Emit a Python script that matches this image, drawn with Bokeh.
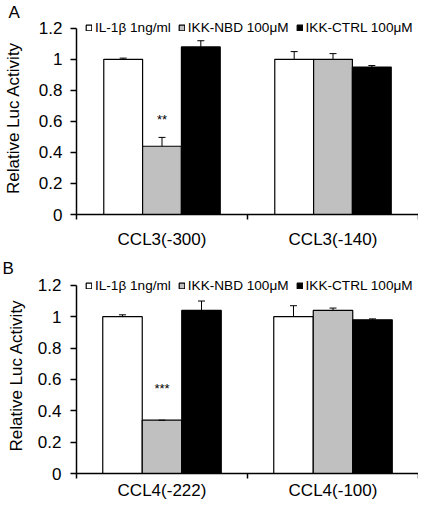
from bokeh.plotting import figure
from bokeh.models import FixedTicker, Legend, LegendItem, NumeralTickFormatter, Range1d, ColumnDataSource, Title
from bokeh.layouts import column
from bokeh.embed import file_html
from bokeh.resources import INLINE
from bokeh.core.properties import value

# ---- data ----
series = ["IL-1β 1ng/ml", "IKK-NBD 100μM", "IKK-CTRL 100μM"]
y_ticks = [0, 0.2, 0.4, 0.6, 0.8, 1, 1.2]

cats_a = ["CCL3(-300)", "CCL3(-140)"]
a_il1b = [1.00, 1.00]
a_il1b_err = [0.008, 0.05]
a_nbd = [0.44, 1.00]
a_nbd_err = [0.057, 0.037]
a_ctrl = [1.08, 0.95]
a_ctrl_err = [0.04, 0.01]
a_sig = ["**", ""]
a_sig_y = [0.61, 0]

cats_b = ["CCL4(-222)", "CCL4(-100)"]
b_il1b = [1.00, 1.00]
b_il1b_err = [0.012, 0.07]
b_nbd = [0.34, 1.04]
b_nbd_err = [0.0, 0.015]
b_ctrl = [1.04, 0.98]
b_ctrl_err = [0.06, 0.006]
b_sig = ["***", ""]
b_sig_y = [0.54, 0]

colors = ["white", "#c0c0c0", "black"]
FONT = "Liberation Sans"


def panel(letter, cats, vals, errs, sig, sig_y, height, b_left, b_top, b_bottom, y_end,
          leg_y, tick_standoff, x_standoff, title_standoff, bar_w, letter_x):
    p = figure(width=418, height=height, output_backend="svg", toolbar_location=None,
               x_range=Range1d(0, len(cats)), y_range=Range1d(0, y_end),
               min_border_left=b_left, min_border_right=0,
               min_border_top=b_top, min_border_bottom=b_bottom)
    p.outline_line_color = None
    p.xgrid.grid_line_color = None
    p.ygrid.grid_line_color = None
    p.background_fill_color = None
    p.border_fill_color = None

    t = Title(text=letter, align="left", offset=letter_x - b_left, standoff=0,
              text_font=FONT, text_font_size="17px", text_font_style="normal",
              text_color="black")
    p.add_layout(t, "above")

    items = []
    for j, (v, e) in enumerate(zip(vals, errs)):
        xs = [i + 0.5 + (j - 1) * bar_w for i in range(len(cats))]
        src = ColumnDataSource(dict(x=xs, top=v, up=[a + b for a, b in zip(v, e)]))
        r = p.vbar(x="x", top="top", width=bar_w, source=src, fill_color=colors[j],
                   line_color="black", line_width=1.2)
        p.segment(x0="x", y0="top", x1="x", y1="up", source=src, line_color="black", line_width=1)
        p.scatter(x="x", y="up", marker="dash", size=7, source=src, line_color="black", line_width=1)
        items.append(LegendItem(label=series[j], renderers=[r]))

    sx = [i + 0.5 for i in range(len(cats))]
    p.text(x=sx, y=sig_y, text=sig, text_align="center", text_baseline="middle",
           text_font=value(FONT), text_font_size="13px", text_color="black")

    leg = Legend(items=items, orientation="horizontal", location=(9, leg_y),
                 glyph_width=7, glyph_height=7, label_standoff=3, spacing=7,
                 label_height=16, padding=0, margin=0, border_line_color=None,
                 background_fill_alpha=0, label_text_font=FONT,
                 label_text_font_size="13.6px", label_text_color="black")
    p.add_layout(leg)

    # x axis
    xa = p.xaxis[0]
    xa.ticker = FixedTicker(ticks=sx, minor_ticks=list(range(len(cats) + 1)))
    xa.major_label_overrides = {s: c for s, c in zip(sx, cats)}
    xa.major_tick_out = 0
    xa.major_tick_in = 0
    xa.minor_tick_out = 5
    xa.minor_tick_in = 0
    xa.minor_tick_line_color = "black"
    xa.minor_tick_line_width = 1.5
    xa.axis_line_color = "black"
    xa.axis_line_width = 1.5
    xa.major_label_standoff = x_standoff
    xa.major_label_text_font = FONT
    xa.major_label_text_font_size = "17px"
    xa.major_label_text_color = "black"

    ya = p.yaxis[0]
    ya.bounds = (0, 1.2)
    ya.ticker = FixedTicker(ticks=y_ticks)
    ya.formatter = NumeralTickFormatter(format="0.[0]")
    ya.minor_tick_line_color = None
    ya.major_tick_out = 6
    ya.major_tick_in = 0
    ya.major_tick_line_color = "black"
    ya.major_tick_line_width = 1.5
    ya.axis_line_color = "black"
    ya.axis_line_width = 1.5
    ya.major_label_standoff = tick_standoff
    ya.major_label_text_font = FONT
    ya.major_label_text_font_size = "17px"
    ya.major_label_text_color = "black"
    ya.axis_label = "Relative Luc Activity"
    ya.axis_label_text_font = FONT
    ya.axis_label_text_font_size = "17px"
    ya.axis_label_text_font_style = "normal"
    ya.axis_label_text_color = "black"
    ya.axis_label_standoff = title_standoff
    return p


# panel A: frame top 15, frame height 199
pa = panel("A", cats_a, [a_il1b, a_nbd, a_ctrl], [a_il1b_err, a_nbd_err, a_ctrl_err],
           a_sig, a_sig_y, 256, 66, 15, 42, 1.244, 179, 8, 10, 13, 0.227, -2)
# panel B: frame top 19, frame height 201
pb = panel("B", cats_b, [b_il1b, b_nbd, b_ctrl], [b_il1b_err, b_nbd_err, b_ctrl_err],
           b_sig, b_sig_y, 246, 72, 19, 26, 1.25, 180, 9, 2, 9, 0.231, -2)

layout = column(pa, pb, spacing=0)
open("out.html", "w").write(file_html(layout, INLINE))
